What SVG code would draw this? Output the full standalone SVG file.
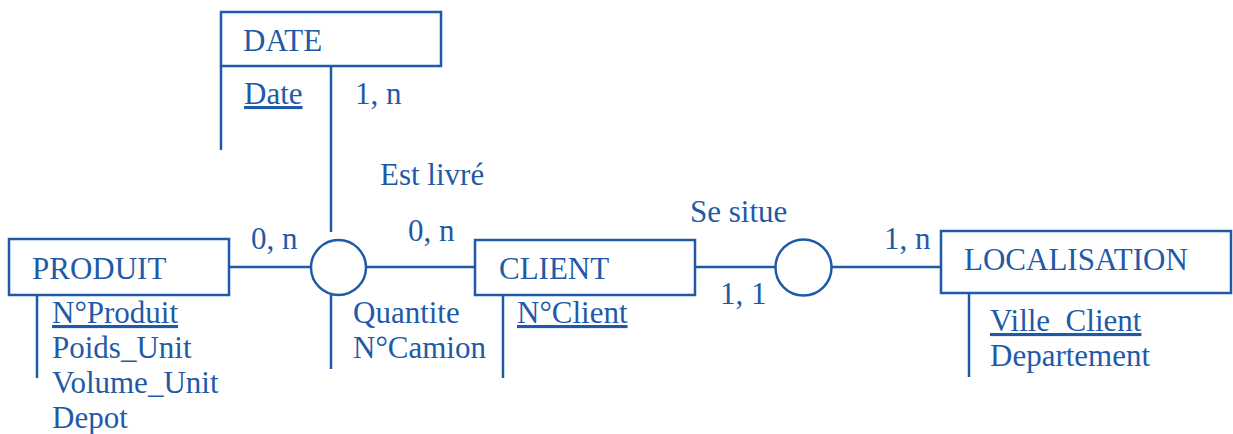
<svg xmlns="http://www.w3.org/2000/svg" width="1233" height="434" viewBox="0 0 1233 434">
<style>
.b{fill:#fff;stroke:#1f5aa8;stroke-width:2.5}
.l{fill:none;stroke:#1f5aa8;stroke-width:2.5}
.t{font-family:"Liberation Serif","Times New Roman",serif;font-size:31px;fill:#1f5aa8}
</style>
<rect width="1233" height="434" fill="#fff"/>
<g id="connectors">
<line class="l" x1="229" y1="267" x2="311" y2="267"/>
<line class="l" x1="366" y1="267" x2="475" y2="267"/>
<line class="l" x1="331" y1="66" x2="331" y2="232"/>
<line class="l" x1="331" y1="295" x2="331" y2="369"/>
<line class="l" x1="695" y1="267" x2="776" y2="267"/>
<line class="l" x1="831" y1="267" x2="941" y2="267"/>
<text class="t" x="251" y="249">0, n</text>
<text class="t" x="408" y="241">0, n</text>
<text class="t" x="355" y="104">1, n</text>
<text class="t" x="720" y="304">1, 1</text>
<text class="t" x="884" y="249">1, n</text>
</g>
<g id="date">
<rect class="b" x="221" y="12" width="220" height="54"/>
<line class="l" x1="221" y1="66" x2="221" y2="150"/>
<text class="t" x="243" y="51">DATE</text>
<text class="t" x="244" y="104" text-decoration="underline">Date</text>
</g>
<g id="produit">
<rect class="b" x="9" y="239" width="220" height="56"/>
<line class="l" x1="37" y1="295" x2="37" y2="378"/>
<text class="t" x="32" y="279">PRODUIT</text>
<text class="t" x="52" y="323" text-decoration="underline">N°Produit</text>
<text class="t" x="52" y="358">Poids_Unit</text>
<text class="t" x="52" y="393">Volume_Unit</text>
<text class="t" x="52" y="428">Depot</text>
</g>
<g id="est-livre">
<circle class="b" cx="338.5" cy="267.5" r="27.5"/>
<text class="t" x="380" y="185">Est livré</text>
<text class="t" x="353" y="323">Quantite</text>
<text class="t" x="353" y="358">N°Camion</text>
</g>
<g id="client">
<rect class="b" x="475" y="240" width="220" height="55"/>
<line class="l" x1="503" y1="295" x2="503" y2="378"/>
<text class="t" x="499" y="279">CLIENT</text>
<text class="t" x="517" y="323" text-decoration="underline">N°Client</text>
</g>
<g id="se-situe">
<circle class="b" cx="803.5" cy="267.5" r="28"/>
<text class="t" x="690" y="222">Se situe</text>
</g>
<g id="localisation">
<rect class="b" x="941" y="231" width="290" height="62"/>
<line class="l" x1="969" y1="293" x2="969" y2="377"/>
<text class="t" x="964" y="270">LOCALISATION</text>
<text class="t" x="990" y="331" text-decoration="underline">Ville_Client</text>
<text class="t" x="990" y="366">Departement</text>
</g>
</svg>
